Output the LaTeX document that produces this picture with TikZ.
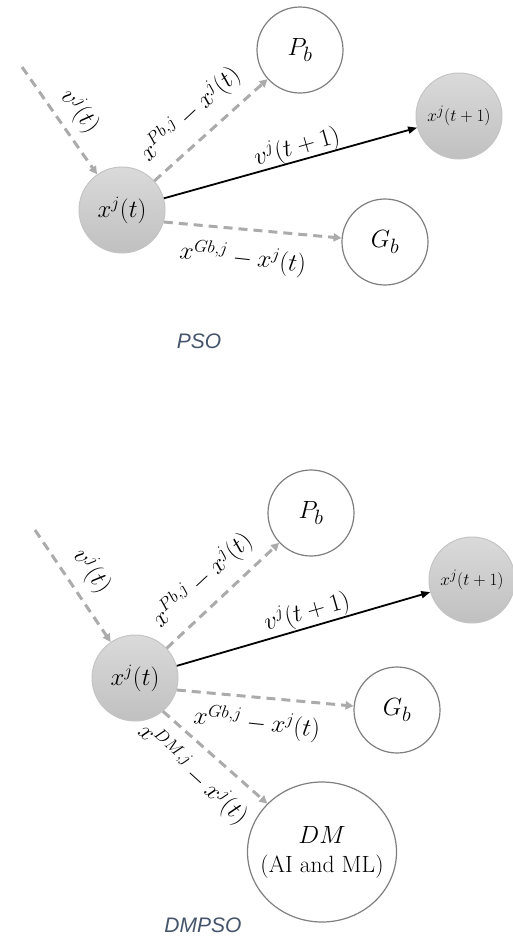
\documentclass[tikz,border=0pt]{standalone}
\usepackage{fontspec}
\newfontfamily\capfont{Liberation Sans}
\usetikzlibrary{arrows.meta,shapes.geometric}
\definecolor{dashgray}{HTML}{ABABAB}
\definecolor{shadetop}{HTML}{DADADA}
\definecolor{shadebot}{HTML}{C0C0C0}
\definecolor{shadeborder}{HTML}{C4C4C4}
\definecolor{circborder}{HTML}{7F7F7F}
\definecolor{capblue}{HTML}{44546A}
\begin{document}
\begin{tikzpicture}[x=1pt,y=-1pt,
  particle/.style={circle, minimum size=86pt, inner sep=0pt, draw=shadeborder, line width=1pt,
     top color=shadetop, bottom color=shadebot},
  bestnode/.style={circle, minimum size=86pt, inner sep=0pt, draw=circborder, line width=1.2pt, fill=white},
  dmnode/.style={ellipse, minimum width=149pt, minimum height=140pt, inner sep=0pt, draw=circborder, line width=1.2pt, fill=white},
  pfont/.style={font=\fontsize{23}{27}\selectfont},
  nfont/.style={font=\fontsize{19}{23}\selectfont},
  bfont/.style={font=\fontsize{28}{32}\selectfont},
  efont/.style={font=\fontsize{23}{27}\selectfont, inner sep=1pt},
  dasharrow/.style={draw=dashgray, line width=3pt, dash pattern=on 9pt off 6pt,
     -{Triangle[length=8pt,width=8pt]}},
  solidarrow/.style={draw=black, line width=1.8pt, -{Triangle[length=9pt,width=7pt]}},
  caption/.style={font=\capfont\itshape\fontsize{21}{25}\selectfont, text=capblue}
]
\useasboundingbox (0,0) rectangle (512,940);

% ---------- PSO ----------
\node[particle, pfont] (X1) at (122,210) {$x^{j}(t)$};
\node[bestnode, bfont] (P1) at (300,50) {$P_b$};
\node[particle, nfont] (N1) at (459,116) {$x^{j}(t+1)$};
\node[bestnode, bfont] (G1) at (385,242) {$G_b$};
\coordinate (S1) at (22,67);

\draw[dasharrow] (S1) -- (X1);
\draw[dasharrow] (X1) -- (P1);
\draw[solidarrow] (X1) -- (N1);
\draw[dasharrow] (X1.-16) -- (G1);

\node[efont, rotate=-52] (LV1) at (80,111) {$v^{j}(t)$};
\node[efont, rotate=43] (LP1) at (190,114) {$x^{Pb,j}-x^{j}(t)$};
\node[efont, rotate=16] (LN1) at (297,147) {$v^{j}(t+1)$};
\node[efont, rotate=-6] (LG1) at (243,258) {$x^{Gb,j}-x^{j}(t)$};

\node[caption] (C1) at (199,341) {PSO};

% ---------- DMPSO ----------
\node[particle, pfont] (X2) at (135,678) {$x^{j}(t)$};
\node[bestnode, bfont] (P2) at (311,513) {$P_b$};
\node[particle, nfont] (N2) at (472,580) {$x^{j}(t+1)$};
\node[bestnode, bfont] (G2) at (397,710) {$G_b$};
\node[dmnode] (D2) at (322,852) {};
\node[align=center, font=\fontsize{23.5}{29}\selectfont, inner sep=0pt] (DT) at (D2.center) {$DM$\\(AI and ML)};
\coordinate (S2) at (35,530);

\draw[dasharrow] (S2) -- (X2);
\draw[dasharrow] (X2) -- (P2);
\draw[solidarrow] (X2) -- (N2);
\draw[dasharrow] (X2.-16) -- (G2);
\draw[dasharrow] (X2.-50) -- (D2);

\node[efont, rotate=-54] (LV2) at (92,571) {$v^{j}(t)$};
\node[efont, rotate=43] (LP2) at (202,580) {$x^{Pb,j}-x^{j}(t)$};
\node[efont, rotate=16] (LN2) at (307,612) {$v^{j}(t+1)$};
\node[efont, rotate=-6] (LG2) at (257,723) {$x^{Gb,j}-x^{j}(t)$};
\node[efont, rotate=-42] (LD2) at (193,774) {$x^{DM,j}-x^{j}(t)$};

\node[caption] (C2) at (203,925) {DMPSO};
\end{tikzpicture}
\end{document}
